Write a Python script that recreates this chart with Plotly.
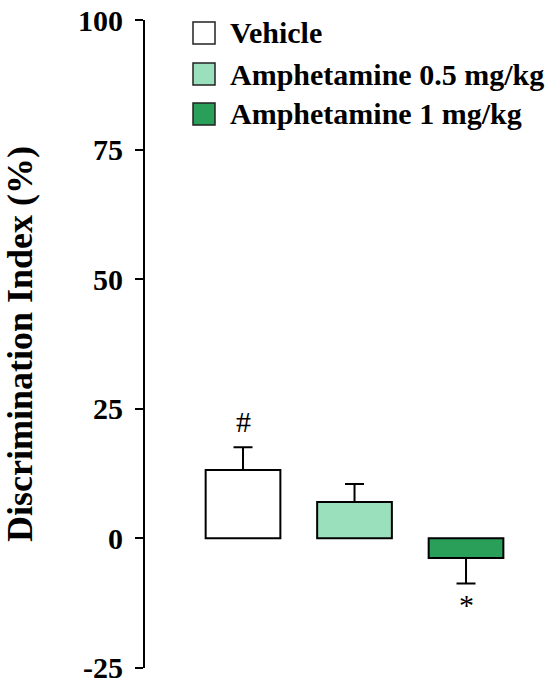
import plotly.graph_objects as go

categories = ["Vehicle", "Amphetamine 0.5 mg/kg", "Amphetamine 1 mg/kg"]
means = [13.2, 7.0, -3.8]
sem_up = [4.4, 3.5, 0.0]
sem_down = [0.0, 0.0, 4.9]
colors = ["#ffffff", "#9be0bc", "#2a9f5a"]
y_ticks = [-25, 0, 25, 50, 75, 100]
marks = ["#", "", "*"]
mark_y = [22.6, None, -12.8]

FONT = "Liberation Serif"
TOP, BOT = 20, 18
plot_h = 686 - TOP - BOT

fig = go.Figure()
fig.add_trace(go.Bar(
    x=[0, 1, 2], y=means, width=0.67,
    marker=dict(color=colors, line=dict(color="black", width=2)),
    error_y=dict(type="data", symmetric=False, array=sem_up, arrayminus=sem_down,
                 color="black", thickness=2, width=9.5),
    hovertext=categories, showlegend=False,
))

for i, (m, my) in enumerate(zip(marks, mark_y)):
    if m:
        fig.add_annotation(x=i, y=my, xref="x", yref="y", text=m, showarrow=False,
                           font=dict(family=FONT, size=30, color="black"))

# legend drawn in paper coordinates
leg_top = [22, 63, 103]
for j, (name, col) in enumerate(zip(categories, colors)):
    y0 = leg_top[j]
    fig.add_shape(type="rect", xref="paper", yref="paper",
                  x0=(193 - 145) / 410, x1=(215 - 145) / 410,
                  y0=1 - (y0 + 22 - TOP) / plot_h, y1=1 - (y0 - TOP) / plot_h,
                  fillcolor=col, line=dict(color="#222222", width=1.5))
    fig.add_annotation(xref="paper", yref="paper", x=(228 - 145) / 410,
                       y=1 - (y0 + 11 - TOP) / plot_h, xanchor="left", yanchor="middle",
                       text="<b>%s</b>" % name, showarrow=False,
                       font=dict(family=FONT, size=30, color="black"))

fig.update_layout(
    width=555, height=686,
    margin=dict(l=145, r=0, t=TOP, b=BOT, autoexpand=False),
    paper_bgcolor="white", plot_bgcolor="white",
    font=dict(family=FONT, color="black"),
    xaxis=dict(visible=False, range=[-0.879, 2.798]),
    yaxis=dict(range=[-25.02, 100.02], tickvals=y_ticks, ticktext=["<b>%d</b>" % v for v in y_ticks],
               tickfont=dict(family=FONT, size=30, color="black"),
               ticklabeloverflow="allow", automargin=False,
               showline=True, linecolor="black", linewidth=2,
               ticks="outside", ticklen=8, tickwidth=2, tickcolor="black",
               showgrid=False, zeroline=False, ticklabelstandoff=6,
               title=dict(text="<b>Discrimination Index (%)</b>",
                          font=dict(family=FONT, size=36, color="black"), standoff=34)),
)

fig.write_html("out.html")
